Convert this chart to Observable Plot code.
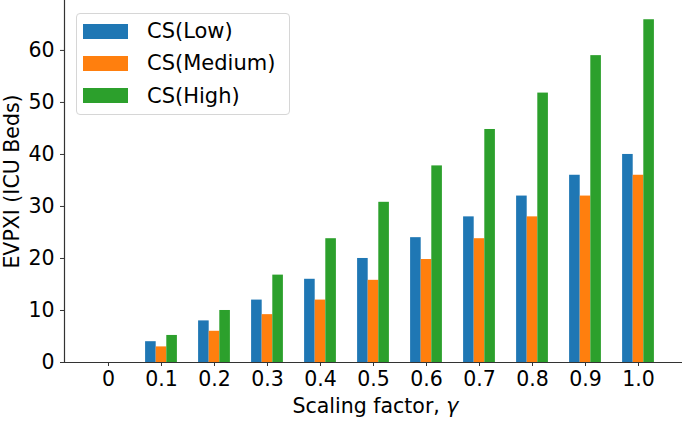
<!DOCTYPE html>
<html>
<head>
<meta charset="utf-8">
<script src="https://cdn.jsdelivr.net/npm/d3@7"></script>
<script src="https://cdn.jsdelivr.net/npm/@observablehq/plot@0.6"></script>
<style>
  html, body { margin: 0; padding: 0; background: #fff; }
  #wrap { position: relative; width: 685px; height: 421px; font-family: "DejaVu Sans", sans-serif; }
  #legend { position: absolute; left: 76px; top: 13px; width: 214px; height: 102px;
    border: 1px solid #d6d6d6; border-radius: 4px; background: rgba(255,255,255,0.8); box-sizing: border-box; }
  .row { position: absolute; left: 6px; height: 20px; display: flex; align-items: center; }
  .sw { width: 45px; height: 15px; margin-right: 19px; }
  .lbl { font-size: 21px; color: #000; white-space: nowrap; }
</style>
</head>
<body>
<div id="wrap"></div>
<script>
const gammaLabels = ["0", "0.1", "0.2", "0.3", "0.4", "0.5", "0.6", "0.7", "0.8", "0.9", "1.0"];
const seriesNames = ["CS(Low)", "CS(Medium)", "CS(High)"];
const seriesColors = ["#1f77b4", "#ff7f0e", "#2ca02c"];
const lowValues = [0, 4, 8, 12, 16, 20, 24, 28, 32, 36, 40];
const mediumValues = [0, 3, 6, 9.2, 12, 15.8, 19.8, 23.8, 28, 32, 36];
const highValues = [0, 5.2, 10, 16.8, 23.8, 30.8, 37.8, 44.8, 51.8, 59, 65.9];
const yTicks = [0, 10, 20, 30, 40, 50, 60];
const xTitleMain = "Scaling factor, ";
const xTitleSymbol = "γ";
const yTitle = "EVPXI (ICU Beds)";

const seriesValues = [lowValues, mediumValues, highValues];
const barWidth = 0.2;
const rows = [];
seriesValues.forEach((vals, s) => {
  vals.forEach((v, i) => {
    rows.push({i, series: seriesNames[s], value: v, off: (s - 1) * barWidth});
  });
});

const xDomain = [-0.83, gammaLabels.length - 1 + 0.83];

const chart = Plot.plot({
  width: 685,
  height: 421,
  marginLeft: 64,
  marginRight: 3,
  marginTop: 0,
  marginBottom: 59,
  style: {fontFamily: "DejaVu Sans, sans-serif", fontSize: "20px", color: "#000", background: "#fff"},
  x: {type: "linear", domain: xDomain},
  y: {domain: [0, 69.6]},
  color: {domain: seriesNames, range: seriesColors},
  marks: [
    Plot.rectY(rows, {
      x1: d => d.i + d.off - barWidth / 2,
      x2: d => d.i + d.off + barWidth / 2,
      y1: 0,
      y2: "value",
      fill: "series"
    }),
    Plot.ruleY([0], {stroke: "#333", strokeWidth: 1.2}),
    Plot.ruleX([xDomain[0]], {stroke: "#333", strokeWidth: 1.2}),
    Plot.axisX({
      ticks: d3.range(gammaLabels.length),
      tickFormat: i => gammaLabels[i],
      tickSize: 4,
      tickPadding: 5,
      fontSize: 20.5,
      stroke: "#333",
      fill: "#000",
      label: null
    }),
    Plot.axisY({
      ticks: yTicks,
      tickSize: 4,
      tickPadding: 6,
      fontSize: 20.5,
      stroke: "#333",
      fill: "#000",
      label: null
    }),
    Plot.text([xTitleMain + xTitleSymbol], {
      frameAnchor: "bottom",
      dy: 43.5,
      dx: 2,
      textAnchor: "middle",
      lineAnchor: "middle",
      fontSize: 20.5,
      fill: "#000",
      text: d => d,
      className: "xtitle"
    }),
    Plot.text([yTitle], {
      frameAnchor: "left",
      dx: -52,
      rotate: -90,
      textAnchor: "middle",
      lineAnchor: "middle",
      fontSize: 20.5,
      fill: "#000",
      text: d => d
    })
  ]
});

// make the γ italic, as in a math-mode label
d3.select(chart).selectAll(".xtitle text").each(function() {
  const t = d3.select(this);
  t.text(null);
  t.append("tspan").text(xTitleMain);
  t.append("tspan").attr("font-style", "italic").text(xTitleSymbol);
});

const wrap = document.getElementById("wrap");
wrap.appendChild(chart);

const legend = document.createElement("div");
legend.id = "legend";
seriesNames.forEach((name, k) => {
  const row = document.createElement("div");
  row.className = "row";
  row.style.top = (7 + k * 32.3) + "px";
  const sw = document.createElement("div");
  sw.className = "sw";
  sw.style.background = seriesColors[k];
  const lbl = document.createElement("span");
  lbl.className = "lbl";
  lbl.textContent = name;
  row.appendChild(sw);
  row.appendChild(lbl);
  legend.appendChild(row);
});
wrap.appendChild(legend);
</script>
</body>
</html>
